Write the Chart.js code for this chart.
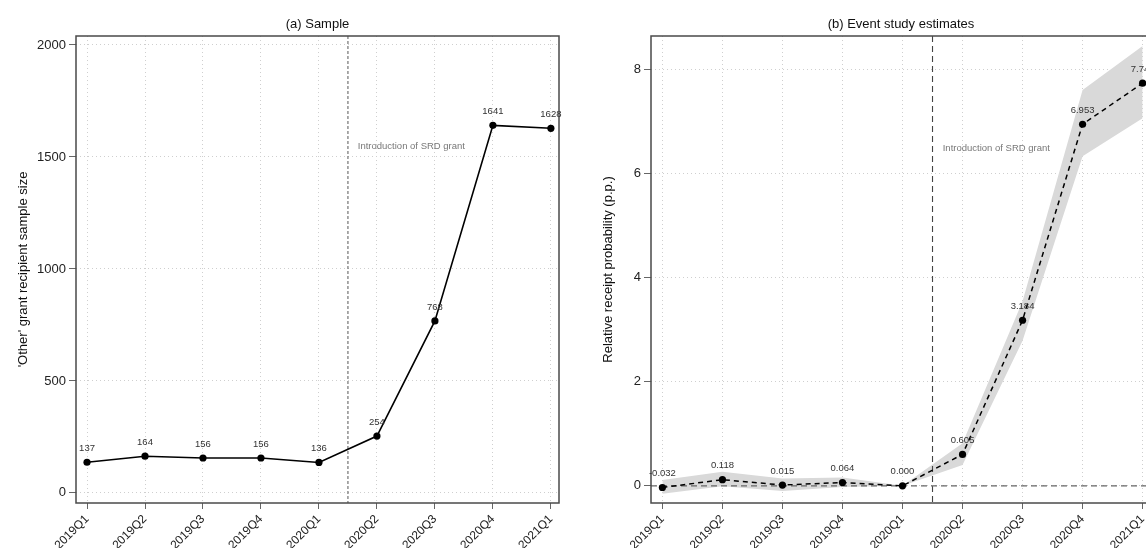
<!DOCTYPE html>
<html>
<head>
<meta charset="utf-8">
<script src="https://cdn.jsdelivr.net/npm/chart.js@4.4.0/dist/chart.umd.min.js"></script>
<style>
  html, body { margin: 0; padding: 0; background: #fff; overflow: hidden; }
  body { width: 1146px; height: 548px; position: relative; }
  canvas { position: absolute; top: 0; }
  #sample-chart { left: 0; }
  #event-chart { left: 575px; }
</style>
</head>
<body>
<canvas id="sample-chart" width="575" height="548"></canvas>
<canvas id="event-chart" width="591" height="548"></canvas>
<script>
// DATA
const quarters = ["2019Q1", "2019Q2", "2019Q3", "2019Q4", "2020Q1", "2020Q2", "2020Q3", "2020Q4", "2021Q1"];
const sampleSize = [137, 164, 156, 156, 136, 254, 768, 1641, 1628];
const estimates = [-0.032, 0.118, 0.015, 0.064, 0.0, 0.605, 3.184, 6.953, 7.743];
const ciUpper = [0.11, 0.27, 0.14, 0.16, 0.0, 0.82, 3.55, 7.61, 8.46];
const ciLower = [-0.15, -0.01, -0.10, -0.02, 0.0, 0.40, 2.79, 6.34, 7.07];
const sampleTicks = [0, 500, 1000, 1500, 2000];
const eventTicks = [0, 2, 4, 6, 8];
const eventQuarter = 4.5; // between 2020Q1 and 2020Q2
const noteText = "Introduction of SRD grant";

// HTML ELEMENTS
const sampleCanvas = document.getElementById("sample-chart");
const eventCanvas = document.getElementById("event-chart");

// SHARED STYLE
const FONT = "'Liberation Sans', Arial, Helvetica, sans-serif";
Chart.defaults.font.family = FONT;
Chart.defaults.color = "#222";

const toPoints = (arr) => arr.map((v, i) => ({ x: i, y: v }));

const xScale = () => ({
    type: "linear",
    min: -0.19,
    max: 8.14,
    afterBuildTicks: (s) => { s.ticks = quarters.map((q, i) => ({ value: i })); },
    afterFit: (s) => { s.height = 45; },
    ticks: {
        autoSkip: false,
        minRotation: 45,
        maxRotation: 45,
        padding: 3,
        font: { size: 12 },
        callback: (v) => quarters[v],
    },
    grid: { color: "#cfcfcf", tickColor: "#666", tickLength: 6, tickBorderDash: [], drawTicks: true },
    border: { display: false, dash: [1, 3] },
});

const yScale = (min, max, tickValues, title, titlePad) => ({
    min: min,
    max: max,
    afterBuildTicks: (s) => { s.ticks = tickValues.map((v) => ({ value: v })); },
    afterFit: (s) => { s.width = 76; },
    ticks: { padding: 3, font: { size: 13 }, callback: (v) => String(v) },
    grid: { color: "#cfcfcf", tickColor: "#666", tickLength: 7, tickBorderDash: [] },
    border: { display: false, dash: [1, 3] },
    title: { display: true, text: title, font: { size: 13 }, color: "#111", padding: { top: titlePad, bottom: 0 } },
});

const titleOpts = (text) => ({
    display: true,
    text: text,
    fullSize: false,
    color: "#111",
    font: { size: 13, weight: "normal" },
    padding: { top: 17, bottom: 3.4 },
});

// PLUGINS
const framePlugin = {
    id: "frame",
    afterDatasetsDraw: (chart) => {
        const a = chart.chartArea;
        const ctx = chart.ctx;
        ctx.save();
        ctx.strokeStyle = "#4a4a4a";
        ctx.lineWidth = 1.5;
        ctx.strokeRect(a.left, a.top, a.right - a.left, a.bottom - a.top);
        ctx.restore();
    },
};

const drawRefLines = (chart, opts) => {
    const a = chart.chartArea;
    const ctx = chart.ctx;
    const xs = chart.scales.x;
    const ys = chart.scales.y;
    ctx.save();
    ctx.lineWidth = 1.1;
    ctx.strokeStyle = opts.color;
    ctx.setLineDash(opts.dash);
    const vx = xs.getPixelForValue(eventQuarter);
    ctx.beginPath();
    ctx.moveTo(vx, a.top);
    ctx.lineTo(vx, a.bottom);
    ctx.stroke();
    if (opts.zeroLine) {
        const zy = ys.getPixelForValue(0);
        ctx.strokeStyle = "#666";
        ctx.setLineDash([6, 4]);
        ctx.beginPath();
        ctx.moveTo(a.left, zy);
        ctx.lineTo(a.right, zy);
        ctx.stroke();
    }
    ctx.setLineDash([]);
    ctx.fillStyle = "#777";
    ctx.font = "9.5px " + FONT;
    ctx.textAlign = "left";
    ctx.textBaseline = "middle";
    ctx.fillText(noteText, xs.getPixelForValue(4.67), ys.getPixelForValue(opts.noteY));
    ctx.restore();
};

const refLinePlugin = {
    id: "refLines",
    beforeDatasetDraw: (chart, args, opts) => {
        if (args.index === opts.lineIndex) drawRefLines(chart, opts);
    },
};

const valueLabelPlugin = {
    id: "valueLabels",
    afterDatasetsDraw: (chart, args, opts) => {
        const meta = chart.getDatasetMeta(opts.lineIndex);
        const values = chart.data.datasets[opts.lineIndex].data;
        const ctx = chart.ctx;
        ctx.save();
        ctx.fillStyle = "#333";
        ctx.font = "9.5px " + FONT;
        ctx.textAlign = "center";
        ctx.textBaseline = "middle";
        meta.data.forEach((pt, i) => {
            ctx.fillText(opts.format(values[i].y), pt.x, pt.y - 14);
        });
        ctx.restore();
    },
};

// CHARTS
const baseOptions = {
    responsive: false,
    animation: false,
    devicePixelRatio: 1,
    layout: { padding: { left: 0, right: 16, top: 0, bottom: 0 } },
};

new Chart(sampleCanvas, {
    type: "line",
    data: {
        datasets: [
            {
                data: toPoints(sampleSize),
                borderColor: "#000",
                borderWidth: 1.6,
                pointRadius: 3.6,
                pointBackgroundColor: "#000",
                pointBorderWidth: 0,
                tension: 0,
            },
        ],
    },
    options: {
        ...baseOptions,
        scales: {
            x: xScale(),
            y: yScale(-45, 2040, sampleTicks, "'Other' grant recipient sample size", 16),
        },
        plugins: {
            legend: { display: false },
            tooltip: { enabled: false },
            title: titleOpts("(a) Sample"),
            refLines: { lineIndex: 0, color: "#666", dash: [3, 2], zeroLine: false, noteY: 1545 },
            valueLabels: { lineIndex: 0, format: (v) => String(v) },
        },
    },
    plugins: [refLinePlugin, framePlugin, valueLabelPlugin],
});

new Chart(eventCanvas, {
    type: "line",
    data: {
        datasets: [
            {
                data: toPoints(estimates),
                borderColor: "#000",
                borderWidth: 1.5,
                borderDash: [5, 4],
                pointRadius: 3.6,
                pointBackgroundColor: "#000",
                pointBorderWidth: 0,
                tension: 0,
                order: 0,
            },
            {
                data: toPoints(ciUpper),
                borderWidth: 0,
                pointRadius: 0,
                backgroundColor: "#d9d9d9",
                fill: "+1",
                tension: 0,
                order: 2,
            },
            {
                data: toPoints(ciLower),
                borderWidth: 0,
                pointRadius: 0,
                fill: false,
                tension: 0,
                order: 2,
            },
        ],
    },
    options: {
        ...baseOptions,
        layout: { padding: { left: 0, right: 15, top: 0, bottom: 0 } },
        scales: {
            x: xScale(),
            y: yScale(-0.33, 8.65, eventTicks, "Relative receipt probability (p.p.)", 26),
        },
        plugins: {
            legend: { display: false },
            tooltip: { enabled: false },
            title: titleOpts("(b) Event study estimates"),
            refLines: { lineIndex: 0, color: "#444", dash: [6, 4], zeroLine: true, noteY: 6.49 },
            valueLabels: { lineIndex: 0, format: (v) => v.toFixed(3) },
        },
    },
    plugins: [refLinePlugin, framePlugin, valueLabelPlugin],
});
</script>
</body>
</html>
